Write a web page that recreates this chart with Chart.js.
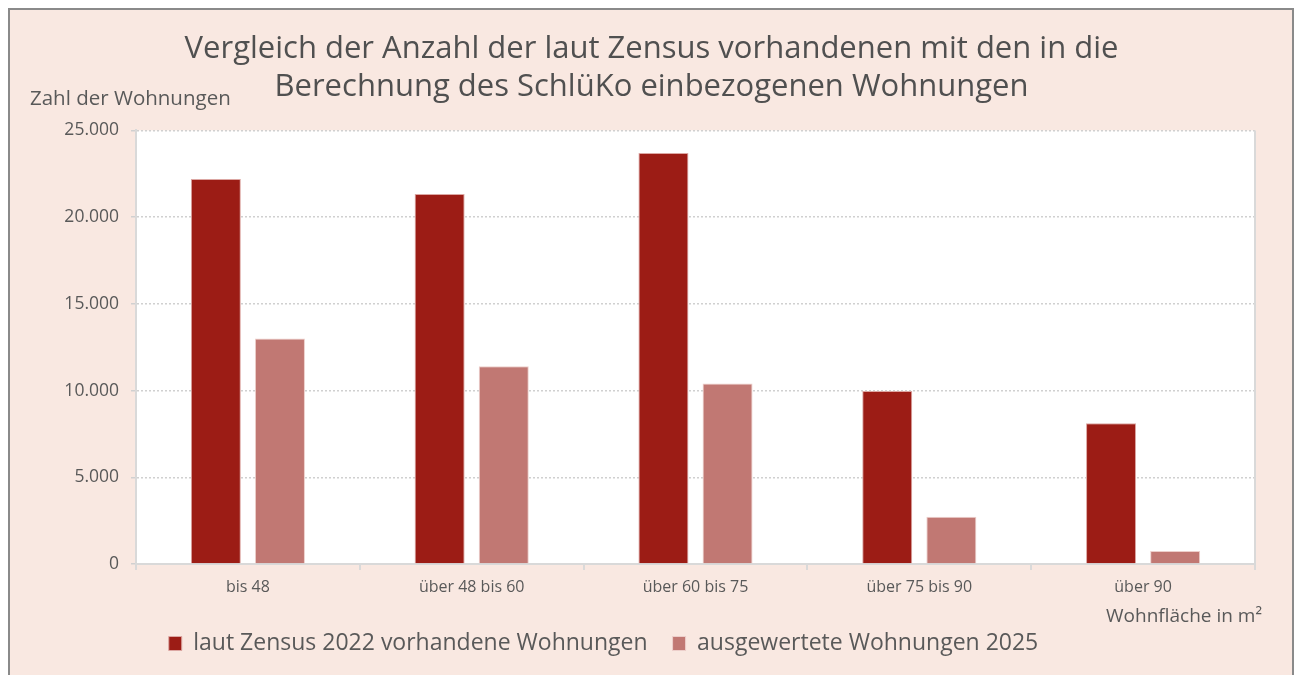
<!DOCTYPE html>
<html lang="de">
<head>
  <meta charset="UTF-8" />
  <title>Vergleich der Anzahl der Wohnungen</title>
  <script src="https://cdn.jsdelivr.net/npm/chart.js"></script>
  <style>
    body { margin: 0; background: #fff; }
    .rahmen {
      position: absolute; left: 8px; top: 8px;
      width: 1282px; height: 680px;
      border: 2px solid #8a8a8a;
      background: #f9e8e1;
    }
    canvas { display: block; }
  </style>
</head>
<body>
  <div class="rahmen">
    <canvas id="grafik" width="1282" height="667"></canvas>
  </div>

  <script>
    // Daten
    const kategorien = ["bis 48", "über 48 bis 60", "über 60 bis 75", "über 75 bis 90", "über 90"];
    const zensus2022 = [22200, 21340, 23700, 9980, 8120];
    const ausgewertet2025 = [13000, 11400, 10400, 2720, 750];
    const yTicks = [0, 5000, 10000, 15000, 20000, 25000];

    const textFarbe = "#595959";
    const schrift = "'Open Sans', sans-serif";

    // weisse Zeichenfläche, rechter Rand, Achsentitel
    const hintergrund = {
      id: "hintergrund",
      afterLayout(chart) {
        // Titel mittig im Rahmen, Legende etwas nach links wie im Original
        chart.titleBlock.left += 14;
        chart.titleBlock.right += 14;
        chart.legend.left -= 34;
        chart.legend.right -= 34;
      },
      beforeDraw(chart) {
        const { ctx, chartArea: a } = chart;
        ctx.save();
        ctx.fillStyle = "#fff";
        ctx.fillRect(a.left, a.top, a.right - a.left, a.bottom - a.top);
        ctx.restore();
      },
      afterDraw(chart) {
        const { ctx, chartArea: a } = chart;
        ctx.save();
        ctx.strokeStyle = "#d9d9d9";
        ctx.lineWidth = 2;
        ctx.beginPath();
        ctx.moveTo(a.right, a.top);
        ctx.lineTo(a.right, a.bottom);
        ctx.stroke();
        ctx.fillStyle = textFarbe;
        ctx.font = "20.5px " + schrift;
        ctx.textAlign = "left";
        ctx.textBaseline = "middle";
        ctx.fillText("Zahl der Wohnungen", a.left - 106, a.top - 31);
        ctx.font = "19px " + schrift;
        ctx.textAlign = "right";
        ctx.fillText("Wohnfläche in m²", a.right + 7, a.bottom + 53);
        ctx.restore();
      }
    };

    new Chart(document.getElementById("grafik"), {
      type: "bar",
      data: {
        labels: kategorien,
        datasets: [
          {
            label: "laut Zensus 2022 vorhandene Wohnungen",
            data: zensus2022,
            backgroundColor: "#9c1c15",
            borderColor: "#dca7a3",
            borderWidth: 1,
            borderSkipped: "bottom"
          },
          {
            label: "ausgewertete Wohnungen 2025",
            data: ausgewertet2025,
            backgroundColor: "#c17873",
            borderColor: "#edcfcb",
            borderWidth: 1,
            borderSkipped: "bottom"
          }
        ]
      },
      options: {
        responsive: false,
        animation: false,
        categoryPercentage: 0.573,
        barPercentage: 0.78,
        layout: { padding: { left: 10, right: 37, top: 0, bottom: 12 } },
        plugins: {
          title: {
            display: true,
            text: ["Vergleich der Anzahl der laut Zensus vorhandenen mit den in die",
                   "Berechnung des SchlüKo einbezogenen Wohnungen"],
            color: "#505050",
            font: { family: schrift, size: 31, weight: "normal", lineHeight: 1.2 },
            padding: { top: 21, bottom: 25 }
          },
          legend: {
            position: "bottom",
            labels: {
              color: textFarbe,
              font: { family: schrift, size: 23 },
              boxWidth: 13,
              boxHeight: 14,
              padding: 25
            }
          },
          tooltip: { enabled: false }
        },
        scales: {
          x: {
            afterFit(scale) { scale.height = 43; },
            grid: { drawOnChartArea: false, color: "#d9d9d9", lineWidth: 2, tickLength: 6 },
            border: { color: "#d9d9d9", width: 2 },
            ticks: { color: textFarbe, font: { family: schrift, size: 16 }, padding: 8 }
          },
          y: {
            min: 0,
            max: 25000,
            afterBuildTicks(scale) {
              scale.ticks = yTicks.map(v => ({ value: v }));
            },
            afterFit(scale) { scale.width = 116; },
            grid: { color: "#d0d0d0", lineWidth: 1.5, tickLength: 5 },
            border: { color: "#d9d9d9", width: 2, dash: [2, 2] },
            ticks: {
              color: textFarbe,
              font: { family: schrift, size: 17.5 },
              padding: 12,
              callback: v => v.toLocaleString("de-DE")
            }
          }
        }
      },
      plugins: [hintergrund]
    });
  </script>
</body>
</html>
